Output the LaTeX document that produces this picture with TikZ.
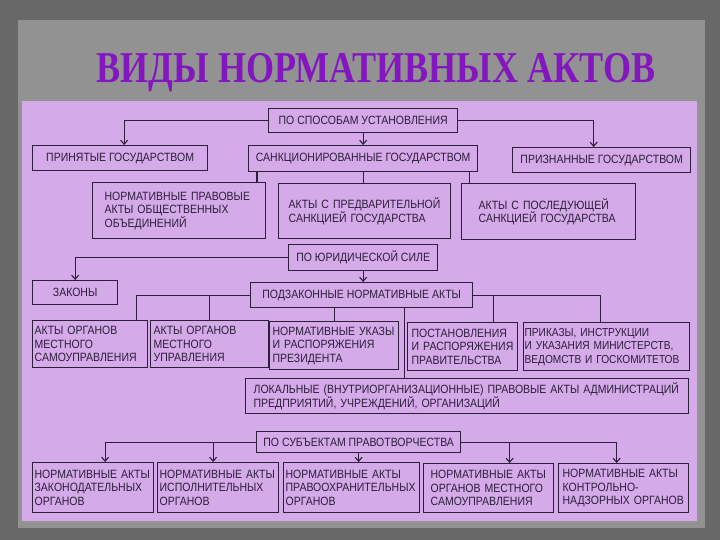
\documentclass[tikz,border=0pt]{standalone}
\usepackage{fontspec}
\setmainfont{Liberation Sans}[FakeStretch=0.875]
\newfontfamily\titlefont{Liberation Serif Bold}[FakeStretch=0.82]
\usetikzlibrary{arrows.meta}
\definecolor{lilac}{RGB}{212,170,232}
\definecolor{frame}{RGB}{104,104,104}
\definecolor{panel}{RGB}{146,146,146}
\definecolor{ink}{RGB}{45,30,60}
\definecolor{titleviolet}{RGB}{132,22,192}

\begin{document}
\begin{tikzpicture}[x=1pt,y=-1pt,
    box/.style={draw=ink, line width=1.3pt, fill=lilac, text=ink, inner sep=0pt,
        anchor=north west, font=\fontsize{12}{13.5}\selectfont},
    tbox/.style={box, align=left},
    link/.style={draw=ink, line width=1.1pt},
    arr/.style={link, -{Straight Barb[length=4pt,width=7pt]}},
    heading/.style={anchor=base, font=\titlefont\fontsize{44}{44}\selectfont}]
    \useasboundingbox (0,0) rectangle (720,540);
    \fill[frame] (0,0) rectangle (720,540);
    \fill[panel] (18,20) rectangle (705,528);
    \fill[lilac] (22,101) rectangle (697,521);

    \node[heading, text=titleviolet] (title) at (376,83) {ВИДЫ НОРМАТИВНЫХ АКТОВ};

    \node[box, minimum width=189, minimum height=24] (spos) at (268,108) {ПО СПОСОБАМ УСТАНОВЛЕНИЯ};
    \node[box, minimum width=175, minimum height=25] (prin) at (32,145) {ПРИНЯТЫЕ ГОСУДАРСТВОМ};
    \node[box, minimum width=229, minimum height=26] (sank) at (248,145) {САНКЦИОНИРОВАННЫЕ ГОСУДАРСТВОМ};
    \node[box, minimum width=178, minimum height=25] (priz) at (512,147) {ПРИЗНАННЫЕ ГОСУДАРСТВОМ};

    \node[tbox, inner xsep=12, text width=149, minimum height=56] (obsh) at (92,182)
        {НОРМАТИВНЫЕ ПРАВОВЫЕ\\АКТЫ ОБЩЕСТВЕННЫХ\\ОБЪЕДИНЕНИЙ};
    \node[tbox, inner xsep=10, text width=152, minimum height=55] (pred) at (278,183)
        {АКТЫ С ПРЕДВАРИТЕЛЬНОЙ\\САНКЦИЕЙ ГОСУДАРСТВА};
    \node[tbox, inner xsep=17, text width=140, minimum height=56] (posl) at (461,183)
        {АКТЫ С ПОСЛЕДУЮЩЕЙ\\САНКЦИЕЙ ГОСУДАРСТВА};

    \node[box, minimum width=149, minimum height=26] (yur) at (288,244) {ПО ЮРИДИЧЕСКОЙ СИЛЕ};
    \node[box, minimum width=85, minimum height=24] (zak) at (32,280) {ЗАКОНЫ};
    \node[box, minimum width=222, minimum height=25] (podz) at (250,282) {ПОДЗАКОННЫЕ НОРМАТИВНЫЕ АКТЫ};

    \node[tbox, inner xsep=2, text width=111, minimum height=47] (mso) at (32,320)
        {АКТЫ ОРГАНОВ\\МЕСТНОГО\\САМОУПРАВЛЕНИЯ};
    \node[tbox, inner xsep=3, text width=112, minimum height=47] (mu) at (150,320)
        {АКТЫ ОРГАНОВ\\МЕСТНОГО\\УПРАВЛЕНИЯ};
    \node[tbox, inner xsep=3, text width=123, minimum height=48] (ukaz) at (269,321)
        {НОРМАТИВНЫЕ УКАЗЫ\\И РАСПОРЯЖЕНИЯ\\ПРЕЗИДЕНТА};
    \node[tbox, inner xsep=4, text width=102, minimum height=48] (post) at (407,322)
        {ПОСТАНОВЛЕНИЯ\\И РАСПОРЯЖЕНИЯ\\ПРАВИТЕЛЬСТВА};
    \node[tbox, inner xsep=1, text width=164, minimum height=48,
        font=\fontsize{11.6}{13.5}\selectfont] (prik) at (523,322)
        {ПРИКАЗЫ, ИНСТРУКЦИИ\\И УКАЗАНИЯ МИНИСТЕРСТВ,\\ВЕДОМСТВ И ГОСКОМИТЕТОВ};
    \node[tbox, inner xsep=8, text width=427, minimum height=35] (lok) at (245,378)
        {ЛОКАЛЬНЫЕ (ВНУТРИОРГАНИЗАЦИОННЫЕ) ПРАВОВЫЕ АКТЫ АДМИНИСТРАЦИЙ\\ПРЕДПРИЯТИЙ, УЧРЕЖДЕНИЙ, ОРГАНИЗАЦИЙ};

    \node[box, minimum width=204, minimum height=21] (subj) at (256,431) {ПО СУБЪЕКТАМ ПРАВОТВОРЧЕСТВА};
    \node[tbox, inner xsep=2, text width=117, minimum height=50] (zakon) at (32,462)
        {НОРМАТИВНЫЕ АКТЫ\\ЗАКОНОДАТЕЛЬНЫХ\\ОРГАНОВ};
    \node[tbox, inner xsep=2, text width=117, minimum height=50] (isp) at (157,462)
        {НОРМАТИВНЫЕ АКТЫ\\ИСПОЛНИТЕЛЬНЫХ\\ОРГАНОВ};
    \node[tbox, inner xsep=2, text width=132, minimum height=50] (pravo) at (283,462)
        {НОРМАТИВНЫЕ АКТЫ\\ПРАВООХРАНИТЕЛЬНЫХ\\ОРГАНОВ};
    \node[tbox, inner xsep=7, text width=116, minimum height=49] (mest) at (423,463)
        {НОРМАТИВНЫЕ АКТЫ\\ОРГАНОВ МЕСТНОГО\\САМОУПРАВЛЕНИЯ};
    \node[tbox, inner xsep=4, text width=122, minimum height=49] (kontr) at (558,463)
        {НОРМАТИВНЫЕ АКТЫ\\КОНТРОЛЬНО-\\НАДЗОРНЫХ ОРГАНОВ};

    \draw[arr] (spos.west) -| ([xshift=4]prin.north);
    \draw[arr] (spos.south) -- (sank.north);
    \draw[arr] (spos.east) -| ([xshift=-8]priz.north);
    \draw[link] ([xshift=9]sank.south west) -- ([xshift=9]sank.south west |- obsh.north);
    \draw[link] (sank.south) -- (sank.south |- pred.north);
    \draw[link] ([xshift=-9]sank.south east) -- ([xshift=-9]sank.south east |- posl.north);

    \draw[arr] (yur.west) -| (zak.north);
    \draw[arr] (yur.south) -- (yur.south |- podz.north);
    \draw[link] (podz.west) -| ([xshift=-12]mso.north east);
    \draw[link] (mu.north) -- (mu.north |- podz.west);
    \draw[link] (podz.south -| ukaz.north) -- (ukaz.north);
    \draw[link] (podz.east) -| ([xshift=-6]prik.north);
    \draw[link] ([xshift=-25]post.north east) -- ([xshift=-25]post.north east |- podz.east);
    \draw[link] ([xshift=-69]podz.south east) -- ([xshift=-69]podz.south east |- lok.north);

    \draw[arr] (subj.west) -| ([xshift=12]zakon.north);
    \draw[arr] ([xshift=-5]isp.north |- subj.west) -- ([xshift=-5]isp.north);
    \draw[arr] (subj.south) -- (subj.south |- pravo.north);
    \draw[arr] (subj.east) -| ([xshift=-7]kontr.north);
    \draw[arr] ([xshift=21]mest.north |- subj.east) -- ([xshift=21]mest.north);
\end{tikzpicture}
\end{document}
